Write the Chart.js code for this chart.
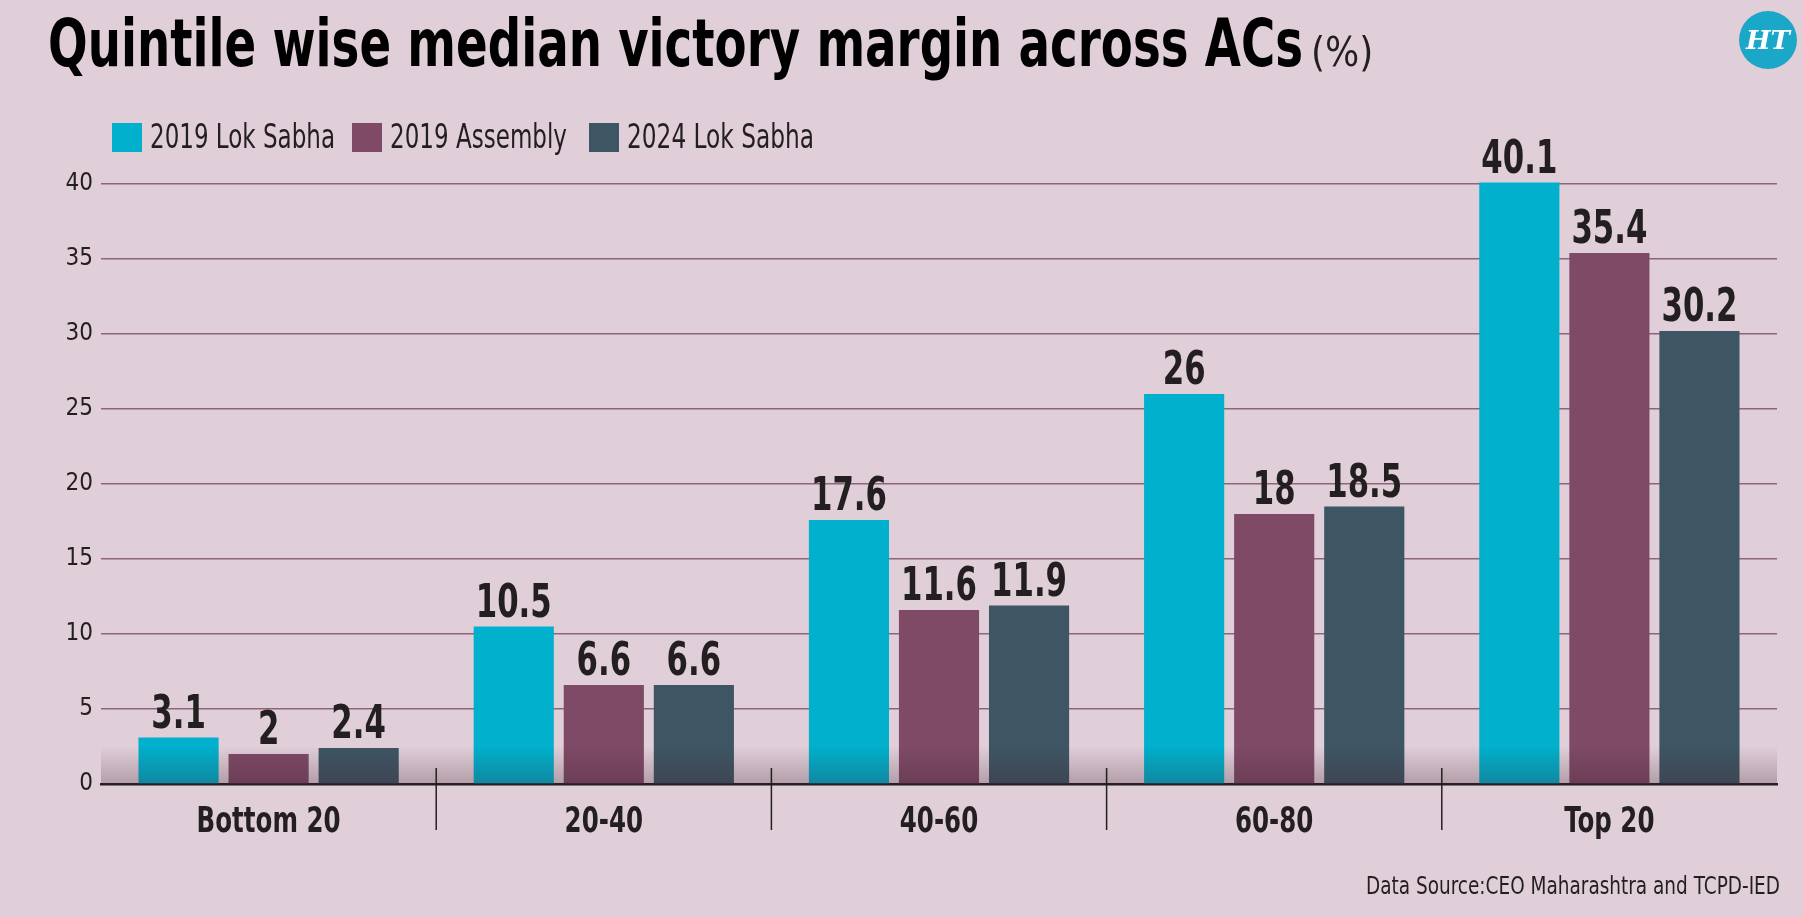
<!DOCTYPE html>
<html>
<head>
<meta charset="utf-8">
<script src="https://cdn.jsdelivr.net/npm/chart.js@4"></script>
<style>
  html, body { margin: 0; padding: 0; }
  body { width: 1803px; height: 917px; background: #e0cfd9; position: relative; overflow: hidden;
         font-family: 'Liberation Sans Narrow', 'DejaVu Sans Condensed', sans-serif; color: #231f20; }
  #chart { position: absolute; left: 0; top: 0; }
  #title { position: absolute; left: 48px; top: 5px; white-space: nowrap; }
  #title .main { font-weight: bold; font-size: 66px; color: #000; }
  #title .unit { font-size: 40px; font-weight: normal; color: #231f20; margin-left: 8px; }
  .sw { position: absolute; top: 123px; width: 30px; height: 29px; }
  .lg { position: absolute; top: 116px; font-size: 34px; white-space: nowrap; }
  #source { position: absolute; left: 1366px; top: 871px; font-size: 25px; white-space: nowrap; }
  #logo { position: absolute; left: 1739px; top: 11px; width: 58px; height: 58px; border-radius: 50%;
          background: #1ba8c8; color: #fff; text-align: center; line-height: 58px;
          font-family: 'DejaVu Serif', serif; font-weight: bold; font-style: italic; font-size: 26px; }
</style>
</head>
<body>
<canvas id="chart" width="1803" height="917"></canvas>
<div id="title"><span class="main">Quintile wise median victory margin across ACs</span><span class="unit">(%)</span></div>
<div id="logo">HT</div>
<div id="source">Data Source:CEO Maharashtra and TCPD-IED</div>
<script>
// data
const categories = ['Bottom 20', '20-40', '40-60', '60-80', 'Top 20'];
const seriesNames = ['2019 Lok Sabha', '2019 Assembly', '2024 Lok Sabha'];
const lokSabha2019 = [3.1, 10.5, 17.6, 26, 40.1];
const assembly2019 = [2, 6.6, 11.6, 18, 35.4];
const lokSabha2024 = [2.4, 6.6, 11.9, 18.5, 30.2];
const yTicks = [0, 5, 10, 15, 20, 25, 30, 35, 40];

const colors = ['#00b0cc', '#7e4a66', '#3e5563'];
const FONT = "'Liberation Sans Narrow', 'DejaVu Sans Condensed', sans-serif";
const INK = '#231f20';

// squeeze an html text to the width it has in the reference
function fitWidth(el, target) {
    el.style.display = 'inline-block';
    const w = el.getBoundingClientRect().width;
    el.style.transform = 'scaleX(' + (target / w) + ')';
    el.style.transformOrigin = '0 0';
    el.style.marginRight = (target - w) + 'px';
}
fitWidth(document.querySelector('#title .main'), 1255);
fitWidth(document.getElementById('source'), 414);

// legend
const legendX = [112, 352, 589];
const legendW = [185, 177, 187];
seriesNames.forEach((name, i) => {
    const sw = document.createElement('div');
    sw.className = 'sw';
    sw.style.left = legendX[i] + 'px';
    sw.style.background = colors[i];
    document.body.appendChild(sw);
    const t = document.createElement('div');
    t.className = 'lg';
    t.style.left = (legendX[i] + 38) + 'px';
    t.textContent = name;
    document.body.appendChild(t);
    fitWidth(t, legendW[i]);
});

function squeezedText(ctx, text, x, y, sx) {
    ctx.save();
    ctx.translate(x, y);
    ctx.scale(sx, 1);
    ctx.fillText(text, 0, 0);
    ctx.restore();
}

// value labels, category labels, separators and base shadow
const decorations = {
    id: 'decorations',
    afterDatasetsDraw(chart) {
        const ctx = chart.ctx;
        const area = chart.chartArea;
        const xs = chart.scales.x;

        const g = ctx.createLinearGradient(0, area.bottom - 38, 0, area.bottom);
        g.addColorStop(0, 'rgba(60,30,45,0)');
        g.addColorStop(1, 'rgba(60,30,45,0.28)');
        ctx.save();
        ctx.fillStyle = g;
        ctx.fillRect(area.left, area.bottom - 38, area.right - area.left, 38);

        ctx.fillStyle = INK;
        ctx.textAlign = 'center';
        ctx.textBaseline = 'alphabetic';

        ctx.font = 'bold 47px ' + FONT;
        const vs = 76 / ctx.measureText('40.1').width;
        chart.data.datasets.forEach((ds, i) => {
            chart.getDatasetMeta(i).data.forEach((bar, j) => {
                squeezedText(ctx, String(ds.data[j]), bar.x, bar.y - 10, vs);
            });
        });

        ctx.font = 'bold 36px ' + FONT;
        const cs = 144 / ctx.measureText('Bottom 20').width;
        categories.forEach((c, k) => {
            squeezedText(ctx, c, xs.getPixelForValue(k), area.bottom + 48, cs);
        });

        ctx.strokeStyle = INK;
        ctx.lineWidth = 1.5;
        for (let k = 1; k < categories.length; k++) {
            const x = (xs.getPixelForValue(k - 1) + xs.getPixelForValue(k)) / 2;
            ctx.beginPath();
            ctx.moveTo(x, area.bottom - 16);
            ctx.lineTo(x, area.bottom + 46);
            ctx.stroke();
        }
        ctx.restore();
    }
};

new Chart(document.getElementById('chart'), {
    type: 'bar',
    data: {
        labels: categories,
        datasets: [
            { label: seriesNames[0], data: lokSabha2019, backgroundColor: colors[0] },
            { label: seriesNames[1], data: assembly2019, backgroundColor: colors[1] },
            { label: seriesNames[2], data: lokSabha2024, backgroundColor: colors[2] }
        ]
    },
    options: {
        responsive: false,
        animation: false,
        layout: { padding: { top: 94, right: 26, left: 0, bottom: 0 } },
        datasets: { bar: { categoryPercentage: 0.806, barPercentage: 0.89 } },
        plugins: { legend: { display: false }, tooltip: { enabled: false } },
        scales: {
            x: {
                grid: { display: false },
                border: { display: true, color: INK, width: 2.5 },
                ticks: { display: false },
                afterFit(s) { s.height = 133; }
            },
            y: {
                min: 0,
                max: 46,
                afterBuildTicks(s) { s.ticks = yTicks.map(v => ({ value: v })); },
                grid: {
                    color: c => c.tick && c.tick.value === 0 ? INK : '#8e647c',
                    lineWidth: 1.5,
                    drawTicks: false
                },
                border: { display: false },
                ticks: { color: INK, padding: 8, font: { family: FONT, size: 24 } },
                afterFit(s) { s.width = 101; }
            }
        }
    },
    plugins: [decorations]
});
</script>
</body>
</html>
